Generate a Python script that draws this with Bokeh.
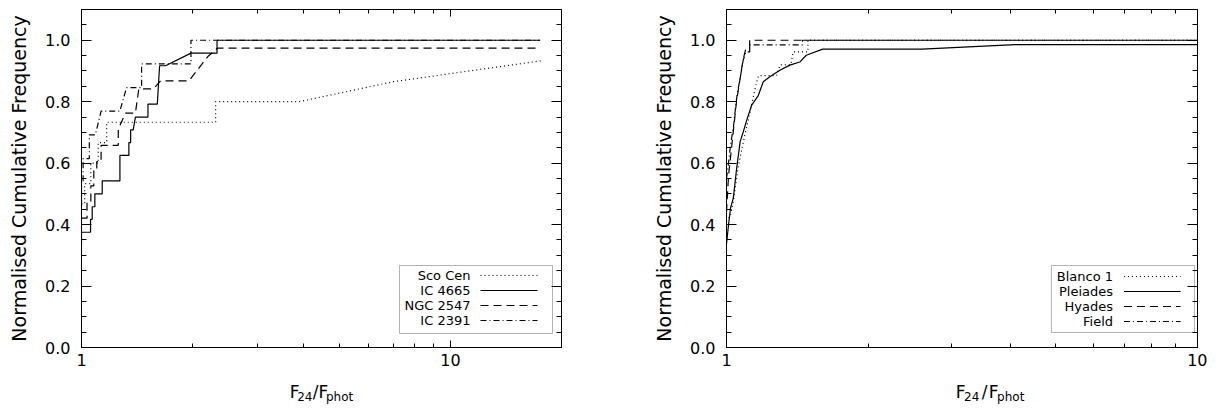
import math
from bokeh.plotting import figure
from bokeh.layouts import row, column
from bokeh.core.properties import value
from bokeh.models import (Range1d, FixedTicker, SingleIntervalTicker, LinearAxis, LogAxis,
                          NumeralTickFormatter, Label, BoxAnnotation)
from bokeh.embed import file_html
from bokeh.resources import INLINE

# ---------------- data ----------------
# Left panel: young clusters
sco_cen_x = [1.0, 1.02, 1.02, 1.06, 1.06, 1.11, 1.11, 1.17, 1.17, 2.31, 2.31, 3.89, 7.0, 17.6]
sco_cen_y = [0.467, 0.467, 0.533, 0.533, 0.6, 0.6, 0.667, 0.667, 0.733, 0.733, 0.8, 0.8, 0.865, 0.933]

ic4665_x = [1.0, 1.0, 1.058, 1.058, 1.069, 1.069, 1.087, 1.087, 1.138, 1.138, 1.271, 1.271,
            1.344, 1.344, 1.359, 1.359, 1.381, 1.40, 1.514, 1.514, 1.605, 1.628, 1.69, 1.98,
            2.33, 2.33, 17.5]
ic4665_y = [0.333, 0.375, 0.375, 0.417, 0.417, 0.458, 0.458, 0.5, 0.5, 0.542, 0.542, 0.625,
            0.625, 0.667, 0.667, 0.708, 0.708, 0.75, 0.75, 0.792, 0.792, 0.917, 0.917, 0.958,
            0.958, 1.0, 1.0]

ngc2547_x = [1.0, 1.035, 1.035, 1.06, 1.06, 1.08, 1.08, 1.10, 1.10, 1.13, 1.13, 1.258, 1.258,
             1.317, 1.40, 1.43, 1.566, 1.639, 1.956, 2.2, 2.335, 17.2]
ngc2547_y = [0.421, 0.421, 0.474, 0.474, 0.526, 0.526, 0.579, 0.579, 0.605, 0.605, 0.658, 0.658,
             0.711, 0.763, 0.763, 0.842, 0.842, 0.868, 0.868, 0.947, 0.974, 0.974]

ic2391_x = [1.0, 1.0, 1.01, 1.01, 1.05, 1.05, 1.09, 1.13, 1.27, 1.325, 1.455, 1.455, 1.98, 1.98, 17.5]
ic2391_y = [0.462, 0.538, 0.538, 0.615, 0.615, 0.692, 0.692, 0.769, 0.769, 0.846, 0.846, 0.923,
            0.923, 1.0, 1.0]

# Right panel: older clusters and field
blanco1_x = [1.0, 1.02, 1.034, 1.058, 1.086, 1.122, 1.159, 1.17, 1.277, 1.30, 1.37, 1.385, 1.489, 1.489, 10.0]
blanco1_y = [0.41, 0.43, 0.476, 0.584, 0.67, 0.767, 0.865, 0.885, 0.885, 0.92, 0.92, 0.962, 0.962, 1.0, 1.0]

pleiades_x = [1.0, 1.0, 1.01, 1.02, 1.034, 1.051, 1.069, 1.086, 1.104, 1.131, 1.168, 1.197, 1.236,
              1.298, 1.363, 1.431, 1.477, 1.6, 2.6, 4.1, 10.0]
pleiades_y = [0.336, 0.336, 0.40, 0.454, 0.487, 0.584, 0.670, 0.703, 0.74, 0.789, 0.82, 0.865, 0.881,
              0.902, 0.919, 0.929, 0.951, 0.971, 0.971, 0.986, 0.986]

hyades_x = [1.0, 1.005, 1.01, 1.02, 1.03, 1.04, 1.05, 1.065, 1.08, 1.09, 1.10, 1.12, 1.12, 10.0]
hyades_y = [0.44, 0.5, 0.56, 0.62, 0.68, 0.74, 0.8, 0.86, 0.92, 0.95, 0.975, 0.975, 1.0, 1.0]

field_x = [1.0, 1.01, 1.02, 1.035, 1.045, 1.055, 1.07, 1.085, 1.10, 1.12, 1.12, 1.45, 1.45, 10.0]
field_y = [0.55, 0.6, 0.66, 0.72, 0.78, 0.83, 0.88, 0.935, 0.962, 0.962, 0.985, 0.985, 1.0, 1.0]

left_names = ["Sco Cen", "IC 4665", "NGC 2547", "IC 2391"]
right_names = ["Blanco 1", "Pleiades", "Hyades", "Field"]
x_tick_values = [1, 10]
x_minor_values = [2, 3, 4, 5, 6, 7, 8, 9]
y_label = "Normalised Cumulative Frequency"

# ---------------- styling ----------------
FONT = "DejaVu Sans"
DASHES = ["1 3", "solid", "8 5", "6 3 1 3"]
FRAME_H = 338
TOP = 9
BOTTOM = 28
LAB_H = 34


def style_axis(ax, major_in, minor_in, labels):
    ax.axis_line_color = "black"
    ax.axis_line_width = 1
    ax.major_tick_in = major_in
    ax.major_tick_out = 0
    ax.minor_tick_in = minor_in
    ax.minor_tick_out = 0
    ax.major_tick_line_color = "black"
    ax.minor_tick_line_color = "black"
    ax.major_label_text_font = FONT
    ax.major_label_text_color = "black"
    if labels:
        ax.major_label_text_font_size = "16px"
    else:
        ax.major_label_text_font_size = "1px"
        ax.major_label_text_alpha = 0
        ax.major_label_standoff = 0


def make_panel(xmax, left, frame_w, border_right, series, names, legend_geom):
    width = left + frame_w + border_right
    p = figure(width=width, height=TOP + FRAME_H + BOTTOM,
               x_axis_type="log", x_range=Range1d(1, xmax), y_range=Range1d(0, 1.1),
               output_backend="svg", toolbar_location=None,
               min_border_left=left, min_border_right=border_right,
               min_border_top=TOP, min_border_bottom=BOTTOM)
    p.background_fill_color = "white"
    p.border_fill_color = "white"
    p.outline_line_color = "black"
    p.grid.visible = False

    xb = p.xaxis[0]
    xb.ticker = FixedTicker(ticks=x_tick_values, minor_ticks=x_minor_values)
    xb.formatter = NumeralTickFormatter(format="0")
    style_axis(xb, 7, 4, True)
    xb.major_label_standoff = 6

    yl = p.yaxis[0]
    yl.ticker = SingleIntervalTicker(interval=0.2, num_minor_ticks=4)
    yl.formatter = NumeralTickFormatter(format="0.0")
    style_axis(yl, 10, 5, True)
    yl.major_label_standoff = 11
    yl.axis_label = y_label
    yl.axis_label_text_font = FONT
    yl.axis_label_text_font_size = "19px"
    yl.axis_label_text_font_style = "normal"
    yl.axis_label_text_color = "black"
    yl.axis_label_standoff = 12

    xa = LogAxis(ticker=FixedTicker(ticks=x_tick_values, minor_ticks=x_minor_values))
    style_axis(xa, 7, 4, False)
    p.add_layout(xa, "above")
    yr = LinearAxis(ticker=SingleIntervalTicker(interval=0.2, num_minor_ticks=4))
    style_axis(yr, 10, 5, False)
    p.add_layout(yr, "right")

    for (xs, ys), dash in zip(series, DASHES):
        p.line(xs, ys, line_color="black", line_width=1.2, line_dash=dash)

    # helpers converting frame pixel offsets to data coordinates
    lx = math.log10(xmax)

    def fx(px):
        return 10 ** (px / frame_w * lx)

    def fy(py):
        return 1.1 - py / FRAME_H * 1.1

    bl, br, bt, bb, text_r, s0, s1, row0 = legend_geom
    p.add_layout(BoxAnnotation(left=fx(bl), right=fx(br), top=fy(bt), bottom=fy(bb),
                               fill_alpha=0, line_color="black", line_width=1))
    for i, (nm, dash) in enumerate(zip(names, DASHES)):
        yy = fy(row0 + 15 * i)
        p.add_layout(Label(x=fx(text_r), y=yy, text=nm, text_align="right",
                           text_baseline="middle", text_font=FONT,
                           text_font_size="13px", text_color="black"))
        p.line([fx(s0), fx(s1)], [yy, yy], line_color="black", line_width=1.2, line_dash=dash)

    # x-axis title with subscripts, as real text in a strip below the panel
    lab = figure(width=width, height=LAB_H, x_range=Range1d(0, width), y_range=Range1d(0, LAB_H),
                 output_backend="svg", toolbar_location=None,
                 x_axis_location=None, y_axis_location=None,
                 min_border_left=0, min_border_right=0, min_border_top=0, min_border_bottom=0)
    lab.outline_line_color = None
    lab.grid.visible = False
    lab.background_fill_color = "white"
    lab.border_fill_color = "white"
    xc = left + frame_w / 2
    big = [("F", -39), ("/", -8), ("F", 0)]
    small = [("24", -29), ("phot", 10)]
    lab.text(x=[xc + o for _, o in big], y=[LAB_H - 16.7] * len(big), text=[t for t, _ in big],
             text_font=value(FONT), text_font_size=value("17px"), text_color="black",
             text_align="left", text_baseline="alphabetic")
    lab.text(x=[xc + o for _, o in small], y=[LAB_H - 21] * len(small), text=[t for t, _ in small],
             text_font=value(FONT), text_font_size=value("12px"), text_color="black",
             text_align="left", text_baseline="alphabetic")
    return column(p, lab, spacing=0)


c1 = make_panel(20, 81, 480, 89,
                [(sco_cen_x, sco_cen_y), (ic4665_x, ic4665_y),
                 (ngc2547_x, ngc2547_y), (ic2391_x, ic2391_y)],
                left_names, (318, 471, 256, 324, 389, 399, 456, 266))
c2 = make_panel(10, 73, 474, 10,
                [(blanco1_x, blanco1_y), (pleiades_x, pleiades_y),
                 (hyades_x, hyades_y), (field_x, field_y)],
                right_names, (327, 471, 256, 323, 389, 400, 457, 267))

layout = row(c1, c2, spacing=0)
open("out.html", "w").write(file_html(layout, INLINE))
